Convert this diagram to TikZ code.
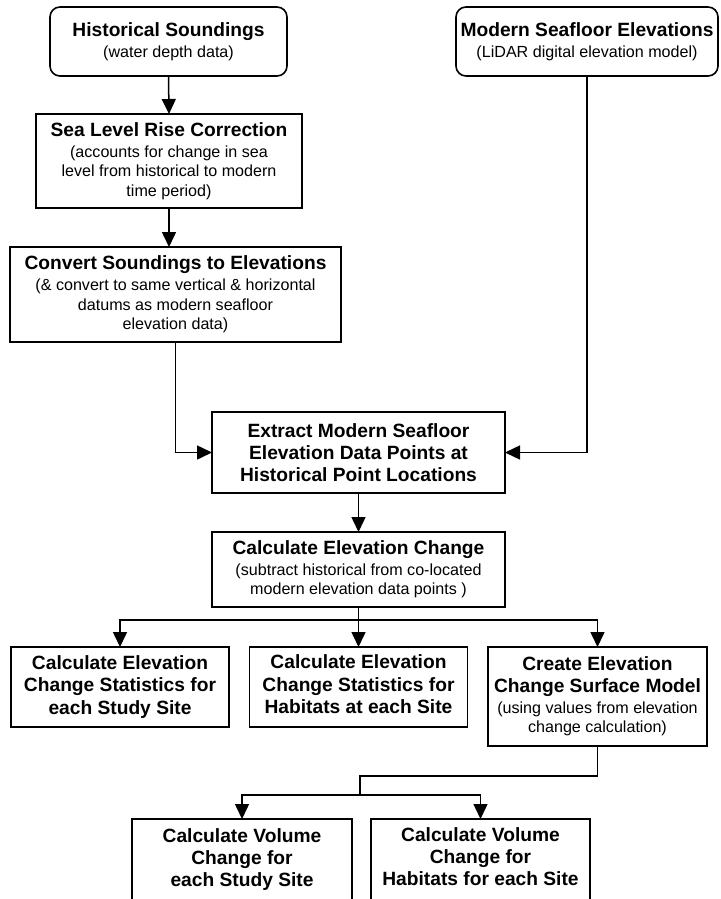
\documentclass[tikz,border=0pt]{standalone}
\usepackage{fontspec}
\setmainfont{Liberation Sans}
\usetikzlibrary{arrows.meta}
\newcommand{\mytitle}[1]{{\fontsize{19.2}{19.2}\selectfont\bfseries #1}}
\begin{document}
\begin{tikzpicture}[x=1pt,y=-1pt,
  box/.style={draw=black, line width=1.6pt, rectangle, inner sep=0pt, outer sep=0pt,
    align=center, font=\fontsize{16.1}{19.4}\selectfont},
  rbox/.style={box, rounded corners=10pt},
  conn/.style={draw=black, line width=1.5pt},
  arr/.style={conn, -{Triangle[length=15pt,width=14pt]}}]
\useasboundingbox (0,0) rectangle (720,899);

\node[rbox, minimum width=237pt, minimum height=69pt] (hs) at (168.5,41.5)
  {\mytitle{Historical Soundings}\\[1.5pt] (water depth data)};
\node[rbox, minimum width=262pt, minimum height=69pt] (ms) at (587,41.5)
  {\mytitle{Modern Seafloor Elevations}\\[1.5pt] (LiDAR digital elevation model)};
\node[box, minimum width=266pt, minimum height=94pt] (slr) at (169,161)
  {\mytitle{Sea Level Rise Correction}\\[1.5pt] (accounts for change in sea\\ level from historical to modern\\ time period)};
\node[box, minimum width=331pt, minimum height=95pt] (cse) at (175.5,294.5)
  {\mytitle{Convert Soundings to Elevations}\\[1.5pt] (\& convert to same vertical \& horizontal\\ datums as modern seafloor\\ elevation data)};
\node[box, minimum width=293pt, minimum height=81pt] (ext) at (358.5,452.5)
  {\mytitle{Extract Modern Seafloor}\\[2.8pt] \mytitle{Elevation Data Points at}\\[2.8pt] \mytitle{Historical Point Locations}};
\node[box, minimum width=293pt, minimum height=75pt] (cec) at (358.5,569.5)
  {\mytitle{Calculate Elevation Change}\\[1.5pt] (subtract historical from co-located\\ modern elevation data points )};
\node[box, minimum width=218pt, minimum height=80pt] (sa) at (120,687)
  {\mytitle{Calculate Elevation}\\[2.8pt] \mytitle{Change Statistics for}\\[2.8pt] \mytitle{each Study Site}};
\node[box, minimum width=218pt, minimum height=80pt] (sb) at (358.5,687)
  {\mytitle{Calculate Elevation}\\[2.8pt] \mytitle{Change Statistics for}\\[2.8pt] \mytitle{Habitats at each Site\strut}};
\node[box, minimum width=219pt, minimum height=99pt] (sc) at (597.5,696.5)
  {\mytitle{Create Elevation}\\[2.8pt] \mytitle{Change Surface Model}\\[1pt] (using values from elevation\\ change calculation)};
\node[box, minimum width=220pt, minimum height=81pt] (va) at (242,859.5)
  {\mytitle{Calculate Volume}\\[3pt] \mytitle{Change for}\\[3pt] \mytitle{each Study Site}};
\node[box, minimum width=219pt, minimum height=81pt] (vb) at (480.5,859.5)
  {\mytitle{Calculate Volume}\\[3pt] \mytitle{Change for}\\[3pt] \mytitle{Habitats for each Site\strut}};

\coordinate (j1) at (358.5,620);
\coordinate (j2) at (360,776);
\coordinate (j3) at (360,795);

\draw[arr] (hs.south) -- (slr.north);
\draw[arr] (slr.south) -- (slr.south |- cse.north);
\draw[arr] (cse.south) |- (ext.west);
\draw[arr] (ms.south) |- (ext.east);
\draw[arr] (ext.south) -- (cec.north);
\draw[conn] (cec.south) -- (j1);
\draw[arr] (j1) -| (sa.north);
\draw[arr] (j1) -- (sb.north);
\draw[arr] (j1) -| (sc.north);
\draw[conn] (sc.south) |- (j2) -- (j3);
\draw[arr] (j3) -| (va.north);
\draw[arr] (j3) -| (vb.north);
\end{tikzpicture}
\end{document}
